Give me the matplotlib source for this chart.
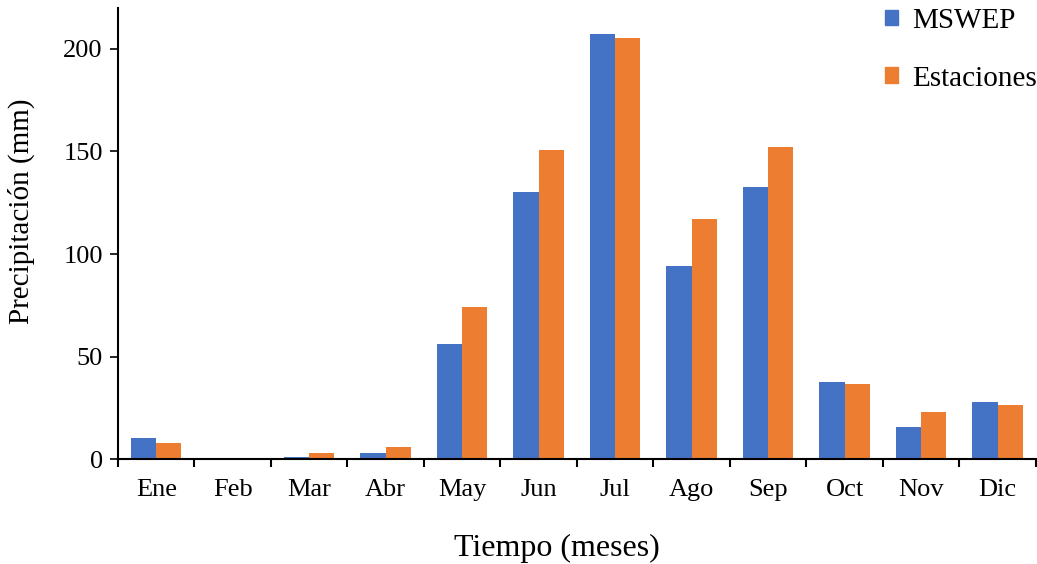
import matplotlib.pyplot as plt
import numpy as np
from matplotlib.patches import Patch

plt.rcParams['font.family'] = ['Liberation Serif', 'DejaVu Serif']

meses = ['Ene', 'Feb', 'Mar', 'Abr', 'May', 'Jun', 'Jul', 'Ago', 'Sep', 'Oct', 'Nov', 'Dic']
mswep = [10.3, 0, 0.8, 3.0, 56, 130.3, 207.3, 94.3, 132.8, 37.4, 15.5, 27.6]
estaciones = [7.7, 0, 3.0, 5.9, 74, 150.8, 205.3, 117.3, 152.2, 36.4, 22.8, 26.6]

azul = '#4472C4'
naranja = '#ED7D31'

fig = plt.figure(figsize=(10.37, 5.64), dpi=100)
ax = fig.add_axes([0.1138, 0.186, 0.885, 0.80])

x = np.arange(len(meses))
w = 0.33
ax.bar(x - w / 2, mswep, w, color=azul)
ax.bar(x + w / 2, estaciones, w, color=naranja)

ax.set_xlim(-0.5, len(meses) - 0.5)
ax.set_ylim(0, 220)
ax.set_yticks([0, 50, 100, 150, 200])
ax.set_xticks(x)
ax.set_xticklabels(meses)
ax.set_xticks(np.arange(len(meses) + 1) - 0.5, minor=True)
ax.tick_params(axis='x', which='major', length=0, pad=14, labelsize=19)
ax.tick_params(axis='x', which='minor', length=6, width=1.5, direction='out')
ax.tick_params(axis='y', length=6, width=1.2, labelsize=19, pad=5)

for s in ['top', 'right']:
    ax.spines[s].set_visible(False)
ax.spines['left'].set_linewidth(1.5)
ax.spines['bottom'].set_linewidth(1.5)

ax.set_ylabel('Precipitación (mm)', fontsize=21, va='center', ha='center')
ax.yaxis.set_label_coords(-0.105, 0.55)
ax.set_xlabel('Tiempo (meses)', fontsize=23, va='center', ha='center')
ax.xaxis.set_label_coords(0.478, -0.197)

handles = [Patch(color=azul, label='MSWEP'), Patch(color=naranja, label='Estaciones')]
fig.legend(handles=handles, loc='upper right', bbox_to_anchor=(1.0, 0.986),
           frameon=False, fontsize=21, handlelength=0.45, handleheight=0.45,
           handletextpad=0.5, labelspacing=1.09, borderpad=0, borderaxespad=0)

fig.savefig('out.png', dpi=100)
